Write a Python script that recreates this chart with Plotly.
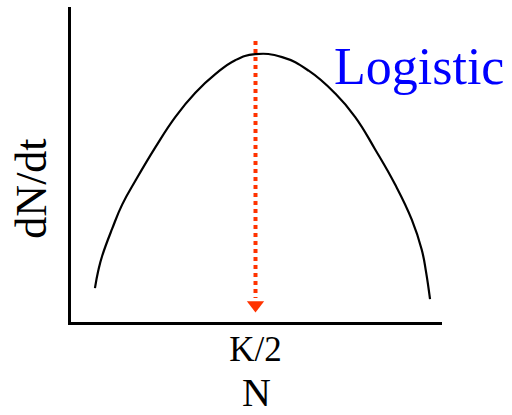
import plotly.graph_objects as go

# Curve values (N position, dN/dt height), arbitrary units
N_vals = [24, 27.3, 31.3, 41.3, 51.3, 64.7, 84.7, 104.7, 124.7, 144.7, 164.7, 184.7,
          211.7, 238.3, 265, 285, 305, 325, 341.7, 351.7, 356, 360]
dNdt_vals = [33.7, 51, 66, 93, 117, 141, 174.3, 204.5, 228.5, 247, 261, 267,
             264, 250.5, 227.7, 204.3, 172, 137, 102, 72, 50, 22.7]

K_half = 185
arrow_top = 280
arrow_bottom = 24
arrow_head = 17

x_range = [0, 372]
y_range = [0, 314]

tick_vals = [K_half]
tick_text = ["K/2"]

SERIF = "Liberation Serif, Times New Roman, serif"
RED = "#FF3300"

fig = go.Figure()
fig.add_trace(go.Scatter(x=N_vals, y=dNdt_vals, mode="lines",
                         line=dict(color="black", width=2.2, shape="spline", smoothing=1.3),
                         hoverinfo="skip"))
fig.add_trace(go.Scatter(x=[K_half, K_half], y=[arrow_top, arrow_bottom], mode="lines",
                         line=dict(color=RED, width=4, dash="dot"), hoverinfo="skip"))
fig.add_trace(go.Scatter(x=[K_half], y=[arrow_head], mode="markers",
                         marker=dict(symbol="triangle-down", size=15, color=RED), hoverinfo="skip"))

fig.update_layout(
    width=512, height=415,
    margin=dict(l=71, r=70, t=7, b=93),
    plot_bgcolor="white", paper_bgcolor="white",
    showlegend=False,
    xaxis=dict(range=x_range, showgrid=False, zeroline=False, showline=True, linecolor="black", linewidth=3,
               tickvals=tick_vals, ticktext=tick_text, ticks="", ticklen=0, automargin=False,
               ticklabelstandoff=-6,
               tickfont=dict(family=SERIF, size=35, color="black"),
               title=dict(text="N", font=dict(family=SERIF, size=40, color="black"), standoff=26)),
    yaxis=dict(range=y_range, showgrid=False, zeroline=False, showline=True, linecolor="black", linewidth=3,
               showticklabels=False, ticks="", automargin=False),
    annotations=[
        dict(text="dN/dt", xref="paper", yref="y", x=-0.105, y=133, xanchor="center", yanchor="middle",
             textangle=-90, showarrow=False, font=dict(family=SERIF, size=44, color="black")),
        dict(text="Logistic", xref="x", yref="y", x=262, y=255, xanchor="left", yanchor="middle",
             showarrow=False, font=dict(family=SERIF, size=52, color="#0000FF")),
    ],
)

fig.write_html("out.html", config={"displayModeBar": False},
               post_script="document.body.style.margin='0';")
